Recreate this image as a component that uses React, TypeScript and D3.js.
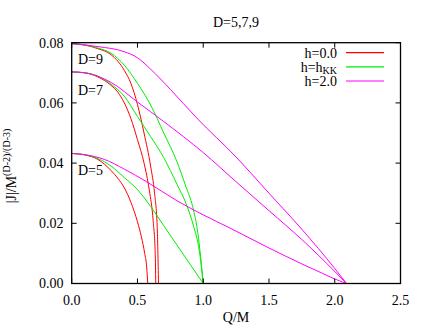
import React, { useEffect, useRef } from "react";
import * as d3 from "d3";

// curves: [Q/M, |J|/M^((D-2)/(D-3))]
const h0D5: [number, number][] = [
  [0, 0.0432], [0.1, 0.0427], [0.2, 0.0412], [0.3, 0.0375], [0.35, 0.035], [0.4, 0.0318],
  [0.45, 0.027], [0.5, 0.0205], [0.53, 0.0155], [0.555, 0.01], [0.57, 0.0055], [0.578, 0],
];
const h0D7: [number, number][] = [
  [0, 0.0703], [0.1, 0.07], [0.2, 0.0686], [0.3, 0.0658], [0.35, 0.0636], [0.4, 0.06],
  [0.45, 0.0548], [0.5, 0.0478], [0.55, 0.04], [0.59, 0.031], [0.62, 0.0205], [0.635, 0.01], [0.639, 0],
];
const h0D9: [number, number][] = [
  [0, 0.0797], [0.1, 0.0792], [0.2, 0.078], [0.3, 0.076], [0.4, 0.0708], [0.45, 0.0665],
  [0.5, 0.0595], [0.55, 0.05], [0.6, 0.039], [0.63, 0.03], [0.65, 0.019], [0.66, 0],
];
const hKKD5: [number, number][] = [
  [0, 0.0432], [0.1, 0.0428], [0.2, 0.0415], [0.3, 0.039], [0.4, 0.0352], [0.5, 0.0312],
  [0.6, 0.0256], [0.7, 0.0192], [0.8, 0.0128], [0.9, 0.0064], [1.0, 0],
];
const hKKD7: [number, number][] = [
  [0, 0.0703], [0.1, 0.07], [0.2, 0.0689], [0.3, 0.0662], [0.4, 0.0622], [0.5, 0.0555],
  [0.6, 0.0488], [0.7, 0.0418], [0.8, 0.033], [0.87, 0.0265], [0.93, 0.0185], [0.97, 0.011], [1.0, 0],
];
const hKKD9: [number, number][] = [
  [0, 0.0797], [0.1, 0.0793], [0.2, 0.0782], [0.3, 0.0765], [0.4, 0.0725], [0.5, 0.0665],
  [0.6, 0.0593], [0.7, 0.05], [0.8, 0.0405], [0.87, 0.032], [0.92, 0.0255], [0.96, 0.0165], [1.0, 0],
];
const h2D5: [number, number][] = [
  [0, 0.0432], [0.1, 0.0428], [0.25, 0.0412], [0.4, 0.038], [0.57, 0.0338], [0.8, 0.0275],
  [1.0, 0.0228], [1.2, 0.0185], [1.5, 0.0118], [1.75, 0.0065], [1.9, 0.0035], [2.0, 0.0015],
  [2.06, 0.0005], [2.09, 0],
];
const h2D7: [number, number][] = [
  [0, 0.0703], [0.1, 0.07], [0.2, 0.0688], [0.3, 0.0668], [0.5, 0.0603], [0.7, 0.0538],
  [1.0, 0.0435], [1.25, 0.0338], [1.5, 0.0242], [1.75, 0.0146], [2.0, 0.004], [2.09, 0],
];
const h2D9: [number, number][] = [
  [0, 0.0797], [0.2, 0.0787], [0.4, 0.077], [0.5, 0.075], [0.6, 0.0712], [0.75, 0.0645],
  [0.95, 0.055], [1.25, 0.042], [1.5, 0.03], [1.75, 0.018], [2.0, 0.005], [2.09, 0],
];

const legendLabels = ["h=0.0", "h=h", "h=2.0"];
const colors = ["#ff0000", "#00ee00", "#ff00ff"];
const groups = [
  [h0D5, h0D7, h0D9],
  [hKKD5, hKKD7, hKKD9],
  [h2D5, h2D7, h2D9],
];
const dLabels = ["D=9", "D=7", "D=5"];
const dLabelJ = [0.0745, 0.0644, 0.0377];
const xTicks = [0, 0.5, 1.0, 1.5, 2.0, 2.5];
const yTicks = [0, 0.02, 0.04, 0.06, 0.08];

export default function App() {
  const ref = useRef<SVGSVGElement>(null);

  const width = 425;
  const height = 327;
  const left = 71.7;
  const right = 400.5;
  const top = 42.7;
  const bottom = 283.5;
  const font = "'Liberation Serif', 'Times New Roman', 'DejaVu Serif', serif";

  useEffect(() => {
    const svg = d3.select(ref.current);
    svg.selectAll("*").remove();

    const x = d3.scaleLinear().domain([0, 2.5]).range([left, right]);
    const y = d3.scaleLinear().domain([0, 0.08]).range([bottom, top]);

    const line = d3
      .line<[number, number]>()
      .x((d) => x(d[0]))
      .y((d) => y(d[1]))
      .curve(d3.curveMonotoneX);

    const plot = svg.append("g");
    groups.forEach((g, i) => {
      g.forEach((data) => {
        plot
          .append("path")
          .attr("d", line(data))
          .attr("fill", "none")
          .attr("stroke", colors[i])
          .attr("stroke-width", 1);
      });
    });

    // mirrored inward ticks
    const tickLen = 5;
    const ticks = svg.append("g").attr("stroke", "black").attr("stroke-width", 1);
    xTicks.forEach((t) => {
      ticks.append("line").attr("x1", x(t)).attr("x2", x(t)).attr("y1", bottom).attr("y2", bottom - tickLen);
      ticks.append("line").attr("x1", x(t)).attr("x2", x(t)).attr("y1", top).attr("y2", top + tickLen);
    });
    yTicks.forEach((t) => {
      ticks.append("line").attr("x1", left).attr("x2", left + tickLen).attr("y1", y(t)).attr("y2", y(t));
      ticks.append("line").attr("x1", right).attr("x2", right - tickLen).attr("y1", y(t)).attr("y2", y(t));
    });

    svg
      .append("rect")
      .attr("x", left)
      .attr("y", top)
      .attr("width", right - left)
      .attr("height", bottom - top)
      .attr("fill", "none")
      .attr("stroke", "black")
      .attr("stroke-width", 1.3);

    const txt = svg
      .append("g")
      .style("font-family", font)
      .style("font-size", "14px")
      .attr("fill", "black");

    xTicks.forEach((t) => {
      txt.append("text").attr("x", x(t)).attr("y", 305).attr("text-anchor", "middle").text(d3.format(".1f")(t));
    });
    yTicks.forEach((t) => {
      txt.append("text").attr("x", 63.5).attr("y", y(t) + 4.8).attr("text-anchor", "end").text(d3.format(".2f")(t));
    });

    txt.append("text").attr("x", 236).attr("y", 27).attr("text-anchor", "middle").text("D=5,7,9");
    txt.append("text").attr("x", 236).attr("y", 322).attr("text-anchor", "middle").text("Q/M");

    const yl = txt
      .append("text")
      .attr("transform", `translate(16, 166) rotate(-90)`)
      .attr("text-anchor", "middle");
    yl.append("tspan").text("|J|/M");
    yl.append("tspan").style("font-size", "10px").attr("dy", -6).text("(D-2)/(D-3)");

    dLabels.forEach((l, i) => {
      txt.append("text").attr("x", 78).attr("y", y(dLabelJ[i]) + 5).text(l);
    });

    // legend
    const rows = [52.7, 66.8, 81];
    legendLabels.forEach((l, i) => {
      const t = txt.append("text").attr("x", 337).attr("y", rows[i] + 4.8).attr("text-anchor", "end");
      t.append("tspan").text(l);
      if (i === 1) {
        t.append("tspan").style("font-size", "10px").attr("dy", 2).text("KK");
      }
      svg
        .append("line")
        .attr("x1", 346)
        .attr("x2", 384)
        .attr("y1", rows[i])
        .attr("y2", rows[i])
        .attr("stroke", colors[i])
        .attr("stroke-width", 1.2);
    });
  }, []);

  return (
    <svg
      ref={ref}
      width={width}
      height={height}
      style={{ position: "absolute", left: 0, top: 0, background: "white" }}
    ></svg>
  );
}
